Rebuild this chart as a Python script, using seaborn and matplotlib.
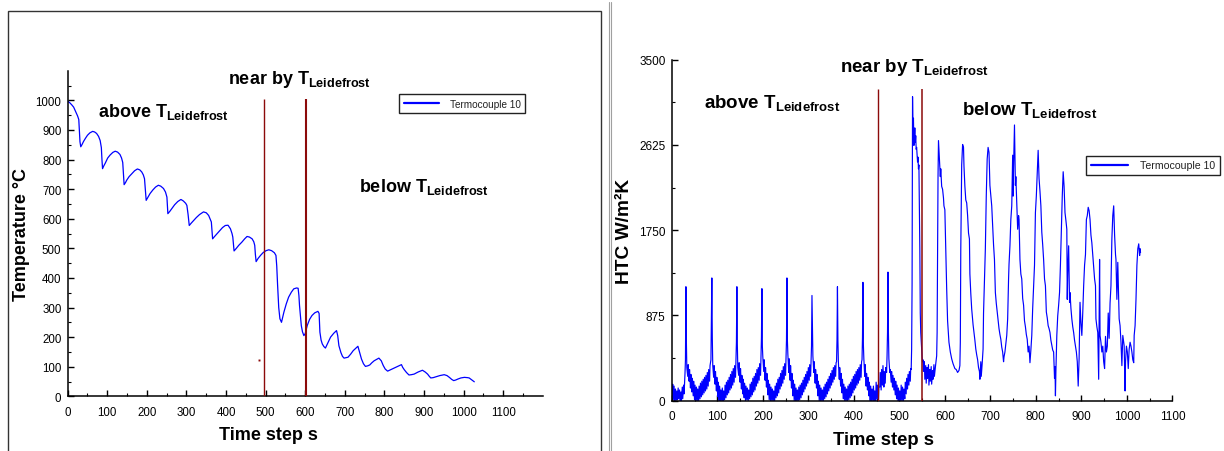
import numpy as np
import matplotlib
matplotlib.use("Agg")
import matplotlib.pyplot as plt
from matplotlib.ticker import FixedLocator
from matplotlib.patches import Rectangle
from matplotlib.lines import Line2D
import seaborn as sns

sns.set_theme(style="white")
plt.rcParams["font.family"] = ["Liberation Sans", "DejaVu Sans"]
plt.rcParams["mathtext.fontset"] = "custom"
plt.rcParams["mathtext.rm"] = "Liberation Sans"
plt.rcParams["mathtext.bf"] = "Liberation Sans:bold"
plt.rcParams["mathtext.it"] = "Liberation Sans:italic"
plt.rcParams["text.color"] = "black"
plt.rcParams["axes.labelcolor"] = "black"

# ---------------------------------------------------------------- data
series_label = "Termocouple 10"

# thermocouple temperature, deg C
temp_time = [0, 5, 10, 15, 20, 25, 28, 29.5, 31, 33, 36, 40, 45, 50, 56, 63, 68, 73, 78, 82, 85, 86.5, 88,
             91, 95, 101, 107, 114, 120, 126, 132, 136, 139, 141, 142.5,
             146, 149, 155, 162, 169, 176, 182, 187, 191, 194, 196, 198.2,
             203, 208, 215, 222, 229, 235, 242, 247, 250.6, 252, 253,
             258, 263, 270, 278, 286, 292, 298, 301, 304, 307,
             312, 318, 325, 333, 343, 350, 356, 360, 362.8, 364.5, 366,
             371, 377, 384, 391, 398, 405, 411, 415, 417, 418.5, 420.2,
             426, 432, 440, 447, 453, 459, 465.8, 470, 472.4, 474, 475.9,
             481, 487, 494, 501, 508, 515, 522, 526, 528, 530, 533, 536, 540,
             546, 552, 558, 565, 571, 578, 582, 584, 585.5, 590, 593, 596.5, 600,
             605, 611, 617, 624, 632, 635, 637, 640, 643, 647, 651,
             657, 664, 672, 679, 682, 685, 690, 694, 698,
             708, 715, 721, 728, 733, 737, 742, 747, 752,
             758, 763, 768, 774, 786, 792, 797, 802, 808,
             816, 824, 833, 843, 846, 850, 856, 862,
             868, 875, 885, 896, 903, 909, 913, 917,
             923, 930, 940, 951, 958, 964, 970, 975,
             980, 985, 993, 1002, 1010, 1014, 1020, 1027]
temp_value = [997, 992, 985, 977, 962, 947, 935, 900, 860, 843, 850, 861, 872, 882, 890, 895, 893, 888, 878, 864, 840, 800, 769,
              778, 788, 805, 815, 824, 828, 825, 817, 805, 790, 750, 715,
              722, 730, 742, 752, 762, 768, 765, 758, 748, 735, 700, 662,
              673, 685, 697, 707, 713, 710, 702, 690, 673, 640, 617,
              625, 634, 647, 658, 665, 660, 652, 645, 615, 577,
              585, 594, 604, 614, 623, 620, 611, 598, 589, 560, 532,
              540, 549, 560, 570, 577, 578, 566, 550, 538, 515, 491,
              500, 510, 521, 532, 540, 538, 532, 522, 510, 480, 455,
              466, 476, 486, 492, 495, 492, 485, 476, 440, 380, 300, 262, 250,
              284, 312, 335, 352, 363, 366, 365, 340, 307, 239, 218, 205, 212,
              239, 260, 273, 282, 287, 280, 217, 190, 177, 168, 163,
              180, 200, 213, 222, 205, 171, 148, 135, 129,
              132, 143, 154, 163, 169, 150, 126, 110, 101,
              103, 106, 113, 120, 129, 120, 104, 92, 85,
              90, 95, 101, 107, 98, 90, 80, 72,
              73, 75, 82, 88, 82, 75, 68, 62,
              63, 66, 70, 73, 70, 64, 57, 53,
              55, 58, 62, 64, 63, 62, 56, 49]

# heat transfer coefficient, W/m2K : film boiling part
htc_above_t = [0, 1, 2, 3, 5, 6, 8, 9, 11, 12, 14, 15, 17, 18, 20, 21, 23, 24, 26, 27, 29, 30,
               31, 32, 33, 35, 36, 38, 39, 41, 42, 44, 45, 47, 48, 50, 51, 53, 54, 56, 57, 59, 60,
               62, 63, 65, 66, 68, 69, 71, 72, 74, 75, 77, 78, 80, 81, 83, 84, 86,
               88, 89, 90, 92, 93, 95, 96, 98, 99, 101, 102, 104, 105, 107, 108, 110, 111, 113, 114,
               116, 117, 119, 120, 122, 123, 125, 126, 128, 129, 131, 132, 134, 135, 137, 138, 140, 141, 142,
               143, 144, 145, 147, 148, 150, 151, 153, 154, 156, 157, 159, 160, 162, 163, 165, 166, 168, 169,
               171, 172, 174, 175, 177, 178, 180, 181, 183, 184, 186, 187, 189, 190, 192, 193, 195, 196, 197,
               198, 199, 200, 202, 203, 205, 206, 208, 209, 211, 212, 214, 215, 217, 218, 220, 221, 223, 224,
               226, 227, 229, 230, 232, 233, 235, 236, 238, 239, 241, 242, 244, 245, 247, 248, 250, 251, 252,
               253, 254, 255, 257, 258, 260, 261, 263, 264, 266, 267, 269, 270, 272, 273, 275, 276, 278, 279,
               281, 282, 284, 285, 287, 288, 290, 291, 293, 294, 296, 297, 299, 300, 302, 303, 305, 306, 307,
               308, 309, 310, 312, 313, 315, 316, 318, 319, 321, 322, 324, 325, 327, 328, 330, 331, 333, 334,
               336, 337, 339, 340, 342, 343, 345, 346, 348, 349, 351, 352, 354, 355, 357, 358, 360, 361, 362, 363,
               364, 365, 366, 368, 369, 371, 372, 374, 375, 377, 378, 380, 381, 383, 384, 386, 387, 389, 390,
               392, 393, 395, 396, 398, 399, 401, 402, 404, 405, 407, 408, 410, 411, 413, 414, 416, 417, 418, 419,
               420, 421, 422, 424, 425, 427, 428, 430, 431, 433, 434, 436, 437, 439, 440, 442, 443, 445, 446,
               448, 449, 451, 452, 454, 455, 457, 458, 460, 461, 463, 464, 466, 467, 469, 470, 472, 473, 474,
               475, 476, 477, 479, 480, 482, 483, 485, 486, 488, 489, 491, 492, 494, 495, 497, 498, 500, 501,
               503, 504, 506, 507, 509, 510, 512, 513, 515, 516, 518, 519, 521, 522, 524, 525, 526, 527, 528]
htc_above_v = [160, 30, 170, 10, 150, 0, 120, 0, 100, 10, 130, 20, 110, 0, 90, 0, 140, 20, 160, 70, 280, 420,
               1170, 620, 340, 250, 370, 200, 320, 130, 270, 90, 230, 50, 200, 10, 160, 0, 140, 0, 120, 0, 150,
               20, 180, 40, 200, 60, 220, 80, 240, 100, 260, 120, 290, 150, 320, 200, 360, 420,
               1260, 650, 360, 240, 360, 170, 300, 100, 240, 40, 190, 0, 150, 0, 110, 0, 130, 0, 100,
               10, 160, 30, 190, 60, 210, 80, 240, 110, 270, 130, 300, 160, 330, 190, 360, 240, 420, 600,
               1170, 580, 340, 260, 390, 190, 330, 120, 260, 70, 220, 30, 180, 0, 150, 10, 130, 0, 110,
               20, 170, 40, 190, 60, 230, 90, 250, 110, 280, 150, 320, 180, 340, 210, 380, 260, 460, 650,
               1150, 560, 450, 300, 420, 210, 340, 140, 280, 60, 210, 10, 170, 0, 140, 0, 120, 0, 100,
               0, 150, 30, 180, 50, 220, 80, 240, 120, 280, 150, 310, 180, 350, 220, 380, 260, 440, 620,
               1260, 620, 480, 290, 430, 210, 360, 130, 280, 50, 210, 0, 170, 0, 130, 0, 110, 0, 140,
               10, 160, 30, 180, 60, 210, 90, 240, 120, 270, 150, 300, 180, 340, 210, 370, 250, 420, 560,
               1080, 740, 460, 290, 400, 180, 320, 130, 270, 50, 200, 0, 160, 0, 130, 0, 110, 0, 140,
               20, 170, 40, 190, 70, 220, 100, 250, 130, 280, 160, 310, 190, 340, 220, 360, 250, 390, 400, 620,
               1170, 620, 400, 220, 340, 150, 280, 80, 220, 20, 170, 0, 140, 0, 120, 0, 150, 10, 170,
               30, 190, 50, 220, 80, 250, 110, 270, 130, 300, 160, 320, 180, 340, 210, 370, 240, 400, 420, 650,
               1215, 570, 430, 250, 370, 150, 280, 110, 240, 50, 190, 0, 150, 0, 120, 0, 150, 0, 100,
               0, 190, 20, 160, 0, 140, 140, 290, 110, 320, 160, 360, 140, 300, 180, 340, 290, 460, 700,
               1320, 700, 430, 290, 320, 190, 300, 140, 260, 110, 230, 60, 200, 20, 160, 0, 130, 0, 100,
               0, 160, 0, 140, 0, 120, 20, 190, 70, 230, 120, 270, 160, 300, 200, 330, 320, 530, 1200]

# transition part
htc_near_t = [529, 530, 531, 532, 533, 534, 535, 536, 537, 538, 540, 541, 542, 543, 544, 545, 546, 547, 549, 550, 551]
htc_near_v = [3120, 2750, 2900, 2620, 2700, 2800, 2650, 2720, 2580, 2600, 2450, 2500, 2380, 2420, 2000, 1560, 900, 700, 530, 450, 400]

# nucleate boiling part
htc_below_t = [552, 553, 555, 556, 558, 559, 561, 562, 564, 565, 567, 568, 570, 571, 573, 574, 576, 577, 579, 580, 582, 583, 584, 585, 586,
               588, 590, 591, 593, 595, 597, 598, 600, 602, 604, 606, 609, 612, 615, 618, 622, 625, 628, 631, 633, 634, 635, 637, 639,
               641, 642, 644, 646, 648, 650, 652, 654, 655, 657, 659, 662, 664, 666, 668, 670, 672, 674, 676, 677, 679, 680, 682, 684, 685, 687, 689, 691, 693, 695,
               697, 699, 701, 703, 705, 707, 709, 711, 713, 715, 717, 719, 721, 723, 725, 727, 729, 730, 732, 734, 736, 738, 740, 741, 743, 745, 747, 749, 750, 751, 753,
               755, 756, 758, 760, 762, 763, 765, 767, 769, 771, 773, 775, 777, 779, 781, 783, 785, 787, 789, 791, 793, 795, 797, 799, 801, 803, 805,
               807, 809, 811, 813, 815, 817, 819, 821, 823, 825, 827, 829, 831, 833, 835, 837, 839, 841, 842, 843, 844, 846, 848, 850, 852, 854, 856, 858, 860,
               862, 864, 866, 868, 869, 870, 872, 874, 875, 877, 879, 881, 883, 885, 887, 889, 891, 893, 894, 895, 897, 899, 901, 903, 905, 907, 909, 911, 913, 915,
               917, 919, 921, 923, 925, 927, 929, 931, 932, 934, 936, 938, 939, 940, 941, 943, 945, 947, 949, 951, 953, 955, 957, 959, 961, 963, 965, 967, 969, 971,
               973, 975, 976, 978, 980, 982, 983, 985, 987, 989, 991, 993, 994, 996, 997, 999, 1001, 1003, 1005, 1007, 1009, 1011, 1013, 1015, 1016, 1018, 1020, 1022, 1024, 1026, 1028, 1029, 1030]
htc_below_v = [420, 300, 400, 220, 360, 180, 340, 230, 370, 160, 320, 200, 350, 170, 310, 220, 370, 250, 340, 380, 460, 700, 1500, 2300, 2670,
               2480, 2300, 2380, 2200, 2170, 2080, 2000, 1960, 1550, 1150, 820, 600, 500, 430, 380, 330, 320, 290, 310, 360, 600, 1550, 2420, 2630,
               2600, 2410, 2200, 2060, 2030, 1900, 1720, 1660, 1300, 1100, 940, 780, 700, 620, 530, 470, 420, 340, 300, 220, 400, 250, 380, 530, 900, 1215, 1560, 2100, 2480, 2600,
               2550, 2210, 2100, 2000, 1800, 1600, 1450, 1110, 1000, 910, 820, 740, 680, 630, 550, 500, 400, 450, 500, 590, 670, 840, 1250, 1400, 1590, 1860, 2000, 2520, 2100, 2400, 2830,
               2210, 2300, 2040, 1760, 1900, 1860, 1450, 1300, 1250, 1050, 980, 820, 760, 680, 630, 500, 560, 390, 520, 670, 950, 1180, 1390, 1930, 2100, 2340, 2570,
               2280, 2150, 2000, 1730, 1600, 1450, 1250, 1180, 910, 850, 770, 740, 700, 620, 570, 520, 500, 230, 350, 50, 300, 670, 870, 980, 1110, 1400, 1760, 2100, 2350,
               2200, 1930, 1850, 1760, 1040, 1300, 1590, 1010, 1110, 950, 840, 760, 700, 620, 560, 500, 400, 150, 300, 430, 1010, 800, 670, 900, 1180, 1390, 1500, 1860, 1900, 1985,
               1950, 1860, 1700, 1620, 1500, 1380, 1250, 1180, 840, 760, 700, 220, 900, 1450, 670, 600, 500, 560, 400, 330, 660, 500, 560, 900, 640, 1000, 1180, 1660, 1900, 2000,
               1700, 1500, 1450, 1040, 1420, 1000, 840, 770, 600, 360, 670, 600, 565, 100, 400, 560, 500, 330, 530, 600, 560, 500, 420, 390, 670, 770, 1040, 1390, 1560, 1610, 1490, 1560, 1520]

# regime boundaries (time step) and their top ends
temp_bounds = [497, 601]
temp_bound_top = 1005
htc_bounds = [454, 550]
htc_bound_top = 3200
stray_point = ([482], [121])

regime_labels = [r"above T$_{\mathbf{Leidefrost}}$",
                 r"near by T$_{\mathbf{Leidefrost}}$",
                 r"below T$_{\mathbf{Leidefrost}}$"]
temp_label_pos = [(76, 946), (406, 1060), (736, 692)]
htc_label_pos = [(71, 3011), (370, 3384), (638, 2943)]

temp_xticks = list(range(0, 1101, 100))
temp_xminor = list(range(50, 1200, 100))
temp_yticks = list(range(0, 1001, 100))
temp_yminor = list(range(50, 1100, 100))
htc_xticks = list(range(0, 1101, 100))
htc_xminor = list(range(50, 1100, 100))
htc_yticks = [0, 875, 1750, 2625, 3500]
htc_yminor = [437.5, 1312.5, 2187.5, 3062.5]

# ---------------------------------------------------------------- figure
BLUE = "#0000ff"
DARKRED = "#8c0a0a"
W, H = 1224, 452
fig = plt.figure(figsize=(W / 100, H / 100), dpi=100)
fig.patch.set_facecolor("white")


def axes_px(x0, x1, y_top, y_bottom):
    return fig.add_axes([x0 / W, 1 - y_bottom / H, (x1 - x0) / W, (y_bottom - y_top) / H])


ax1 = axes_px(67.7, 542.8, 71.7, 397.3)
ax2 = axes_px(671.8, 1172.4, 60.7, 401.7)

htc_t = htc_above_t + htc_near_t + htc_below_t
htc_v = htc_above_v + htc_near_v + htc_below_v

sns.lineplot(x=temp_time, y=temp_value, ax=ax1, color=BLUE, lw=0.9,
             estimator=None, sort=False, label=series_label)
sns.lineplot(x=htc_t, y=htc_v, ax=ax2, color=BLUE, lw=0.85,
             estimator=None, sort=False, label=series_label)

ax1.vlines(temp_bounds, 0, temp_bound_top, colors=DARKRED, linewidths=[1.0, 1.5], zorder=3)
ax2.vlines(htc_bounds, 0, htc_bound_top, colors=DARKRED, linewidths=[1.0, 1.1], zorder=3)
ax1.plot(*stray_point, ls="none", marker="s", ms=1.4, color=DARKRED, mec="none")

ax1.set_xlim(0, 1200)
ax1.set_ylim(0, 1100)
ax2.set_xlim(0, 1100)
ax2.set_ylim(0, 3500)

for ax, xt, xm, yt, ym, fs in [(ax1, temp_xticks, temp_xminor, temp_yticks, temp_yminor, 8.3),
                               (ax2, htc_xticks, htc_xminor, htc_yticks, htc_yminor, 8.5)]:
    ax.xaxis.set_major_locator(FixedLocator(xt))
    ax.xaxis.set_minor_locator(FixedLocator(xm))
    ax.yaxis.set_major_locator(FixedLocator(yt))
    ax.yaxis.set_minor_locator(FixedLocator(ym))
    ax.set_xticklabels([str(v) for v in xt])
    ax.set_yticklabels([f"{v:g}" for v in yt])
    ax.tick_params(which="both", direction="in", bottom=True, left=True,
                   top=False, right=False, colors="black", labelsize=fs)
    ax.tick_params(which="major", length=4, width=1.0)
    ax.tick_params(which="minor", length=2.5, width=0.8)
    ax.tick_params(axis="x", pad=7)
    ax.tick_params(axis="y", pad=4.5)
    sns.despine(ax=ax)
    for side in ("left", "bottom"):
        ax.spines[side].set_linewidth(1.1)
        ax.spines[side].set_color("black")
    ax.set_facecolor("white")
    ax.grid(False)

ax1.set_ylabel("Temperature °C", fontsize=13, fontweight="bold", va="center")
ax1.yaxis.set_label_coords(-0.0972, 0.5)
ax1.set_xlabel("Time step s", fontsize=13, fontweight="bold", va="center")
ax1.xaxis.set_label_coords(0.4216, -0.1158)

ax2.set_ylabel("HTC W/m²K", fontsize=13.8, fontweight="bold", va="center")
ax2.yaxis.set_label_coords(-0.0935, 0.5)
ax2.set_xlabel("Time step s", fontsize=13.3, fontweight="bold", va="center")
ax2.xaxis.set_label_coords(0.4219, -0.113)

for text, (x, y) in zip(regime_labels, temp_label_pos):
    ax1.text(x, y, text, fontsize=13, fontweight="bold", ha="left", va="baseline", color="black")
for text, (x, y) in zip(regime_labels, htc_label_pos):
    ax2.text(x, y, text, fontsize=13.5, fontweight="bold", ha="left", va="baseline", color="black")

for ax, anchor, fs in [(ax1, (399 / W, 1 - 95 / H), 7.2), (ax2, (1086.4 / W, 1 - 156.7 / H), 7.6)]:
    leg = ax.legend(loc="upper left", bbox_to_anchor=anchor, bbox_transform=fig.transFigure,
                    fontsize=fs, frameon=True, fancybox=False, framealpha=1, edgecolor="#222222",
                    borderaxespad=0, borderpad=0.45, handlelength=3.5, handletextpad=1.1)
    leg.get_frame().set_linewidth(1.0)
    for line in leg.get_lines():
        line.set_linewidth(1.6)
    for t in leg.get_texts():
        t.set_color("#222222")

# outer frame around the temperature panel and the panel divider
fig.add_artist(Rectangle((8 / W, -0.02), (601 - 8) / W, 1.02 - 12.3 / H, transform=fig.transFigure,
                         fill=False, edgecolor="#333333", lw=1.0))
for xd in (609, 611):
    fig.add_artist(Line2D([xd / W, xd / W], [0, 1 - 3 / H], transform=fig.transFigure,
                          color="#a0a0a0", lw=0.8))

fig.savefig("out.png", dpi=100)
